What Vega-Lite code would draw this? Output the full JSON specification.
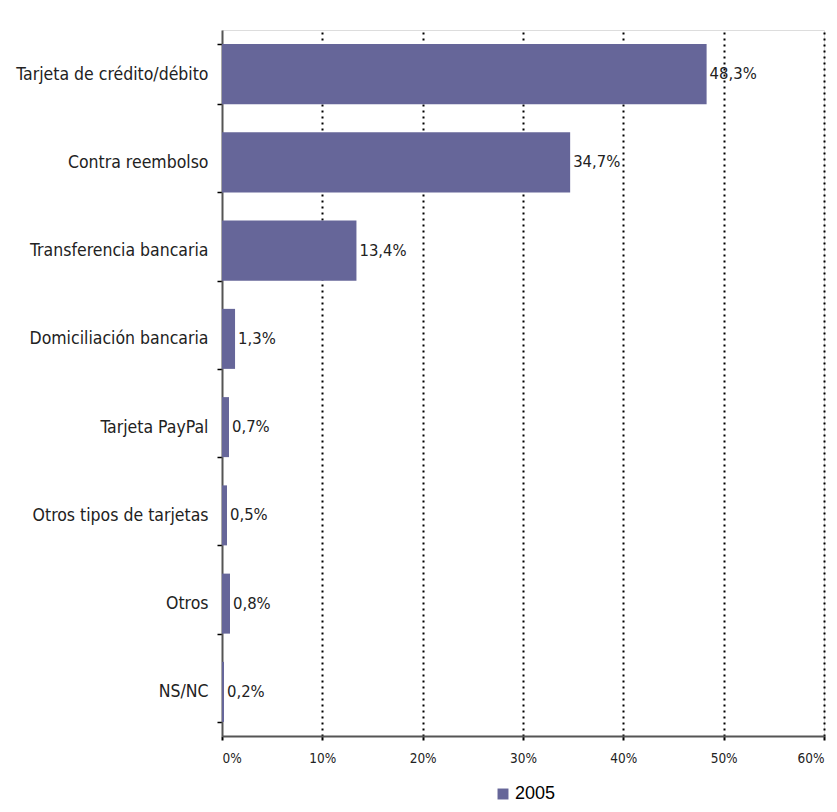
{
  "$schema": "https://vega.github.io/schema/vega-lite/v6.json",
  "width": 602,
  "height": 706,
  "autosize": {"type": "none"},
  "padding": {"left": 222, "top": 30, "right": 13, "bottom": 76},
  "background": "white",
  "data": {
    "values": [
      {"cat": "Tarjeta de crédito/débito", "v": 48.3, "serie": "2005"},
      {"cat": "Contra reembolso", "v": 34.7, "serie": "2005"},
      {"cat": "Transferencia bancaria", "v": 13.4, "serie": "2005"},
      {"cat": "Domiciliación bancaria", "v": 1.3, "serie": "2005"},
      {"cat": "Tarjeta PayPal", "v": 0.7, "serie": "2005"},
      {"cat": "Otros tipos de tarjetas", "v": 0.5, "serie": "2005"},
      {"cat": "Otros", "v": 0.8, "serie": "2005"},
      {"cat": "NS/NC", "v": 0.2, "serie": "2005"}
    ]
  },
  "transform": [
    {"calculate": "replace(format(datum.v, '.1f'), '.', ',') + '%'", "as": "lbl"}
  ],
  "encoding": {
    "y": {
      "field": "cat", "type": "nominal", "sort": null, "title": null,
      "scale": {"paddingInner": 0.32, "paddingOuter": 0.16},
      "axis": {
        "tickBand": "extent", "tickSize": 5, "tickColor": "black", "tickWidth": 1.5,
        "domainColor": "#555555", "domainWidth": 2,
        "labelFont": "DejaVu Sans Condensed", "labelFontSize": 17.5, "labelColor": "#222222",
        "labelPadding": 9, "labelLimit": 300
      }
    }
  },
  "layer": [
    {
      "mark": {"type": "bar", "color": "#666699"},
      "encoding": {
        "x": {
          "field": "v", "type": "quantitative", "title": null,
          "scale": {"domain": [0, 60], "nice": false},
          "axis": {
            "values": [0, 10, 20, 30, 40, 50, 60],
            "labelExpr": "datum.value + '%'",
            "grid": true, "gridColor": "black", "gridDash": [2, 4], "gridWidth": 2,
            "gridOpacity": {"condition": {"test": "datum.value == 0", "value": 0}, "value": 1},
            "domainColor": "#555555", "domainWidth": 2,
            "tickColor": "black", "tickSize": 4, "tickWidth": 2,
            "labelFont": "DejaVu Sans Condensed", "labelFontSize": 13.5, "labelColor": "#222222",
            "labelPadding": 11
          }
        },
        "fill": {
          "field": "serie", "type": "nominal",
          "scale": {"range": ["#666699"]},
          "legend": {
            "title": null, "orient": "none", "legendX": 272, "legendY": 755,
            "symbolType": "square", "symbolSize": 120, "symbolStrokeWidth": 0,
            "labelFont": "Liberation Sans", "labelFontSize": 18, "labelColor": "black",
            "labelOffset": 3
          }
        }
      }
    },
    {
      "mark": {"type": "text", "align": "left", "baseline": "middle", "dx": 3,
               "font": "DejaVu Sans Condensed", "fontSize": 16.5, "color": "#222222"},
      "encoding": {
        "x": {"field": "v", "type": "quantitative"},
        "text": {"field": "lbl"}
      }
    }
  ]
}
